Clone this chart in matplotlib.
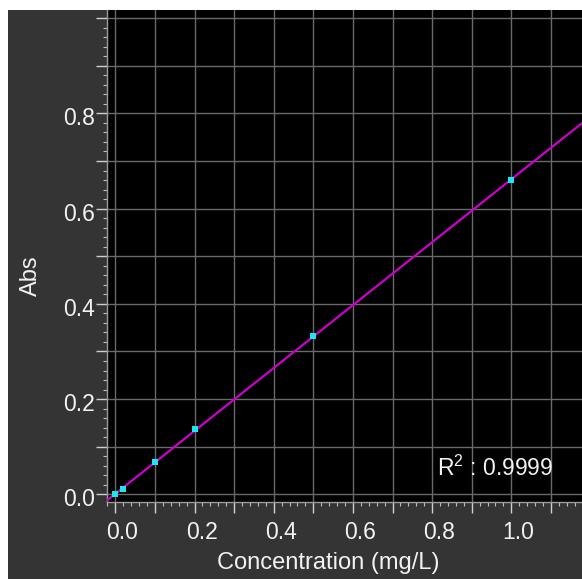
import numpy as np
import matplotlib
matplotlib.use("Agg")
import matplotlib.pyplot as plt
from matplotlib.patches import Rectangle
from matplotlib.ticker import MultipleLocator
import matplotlib.transforms as mtransforms

# ---- data ----
concentration = [0.0, 0.02, 0.1, 0.2, 0.5, 1.0]
absorbance = [0.0, 0.011, 0.068, 0.137, 0.333, 0.660]
x_major = [0.0, 0.1, 0.2, 0.3, 0.4, 0.5, 0.6, 0.7, 0.8, 0.9, 1.0, 1.1]
x_labels = ['0.0', '', '0.2', '', '0.4', '', '0.6', '', '0.8', '', '1.0', '']
y_major = [0.0, 0.1, 0.2, 0.3, 0.4, 0.5, 0.6, 0.7, 0.8, 0.9, 1.0]
y_labels = ['0.0', '', '0.2', '', '0.4', '', '0.6', '', '0.8', '', '']
r2_text = r'R$^{2}$ : 0.9999'
x_title = 'Concentration (mg/L)'
y_title = 'Abs'

plt.rcParams['font.family'] = ['Liberation Sans', 'DejaVu Sans']
plt.rcParams['mathtext.fontset'] = 'custom'
plt.rcParams['mathtext.rm'] = 'Liberation Sans'
plt.rcParams['mathtext.it'] = 'Liberation Sans'
plt.rcParams['mathtext.default'] = 'regular'

W, H = 582, 579
fig = plt.figure(figsize=(W / 100, H / 100), dpi=100)
fig.patch.set_facecolor('white')
fig.patches.append(Rectangle((8 / W, 0), 1 - 8 / W, 1 - 10 / H,
                             transform=fig.transFigure, facecolor='#343434',
                             edgecolor='none', zorder=-10))

ax = fig.add_axes([107 / W, (H - 502) / H, (W - 107) / W, (502 - 10) / H])
ax.set_facecolor('black')
ax.set_xlim(-0.021, 1.1785)
ax.set_ylim(-0.016, 1.017)

# grid
ax.set_xticks(x_major, x_labels)
ax.set_yticks(y_major, y_labels)
ax.xaxis.set_minor_locator(MultipleLocator(0.02))
ax.yaxis.set_minor_locator(MultipleLocator(0.02))
ax.grid(True, which='major', color='#6a6a6a', linewidth=1.0)
ax.set_axisbelow(True)

# fit line
slope, intercept = np.polyfit(concentration, absorbance, 1)
xs = np.array(ax.get_xlim())
ax.plot(xs, slope * xs + intercept, color='#cc00cc', linewidth=1.6, zorder=3)
ax.plot(concentration, absorbance, linestyle='none', marker='s',
        markersize=4.2, color='#1ee6f0', markeredgewidth=0, zorder=4)

for s in ['top', 'right']:
    ax.spines[s].set_visible(False)
for s in ['left', 'bottom']:
    ax.spines[s].set_color('#9a9a9a')
    ax.spines[s].set_linewidth(1.0)

ax.tick_params(which='major', direction='out', length=8, width=1.0,
               color='#cfcfcf', labelcolor='#f2f2f2', labelsize=16.5)
ax.tick_params(axis='y', which='major', pad=1)
ax.tick_params(axis='x', which='major', pad=6)
ax.tick_params(which='minor', direction='out', length=3, width=0.8,
               color='#bdbdbd')

# shift tick labels to match reference placement
dx = mtransforms.ScaledTranslation(7 / 100, 0, fig.dpi_scale_trans)
for lab in ax.get_xticklabels():
    lab.set_transform(lab.get_transform() + dx)
dy = mtransforms.ScaledTranslation(0, -3 / 100, fig.dpi_scale_trans)
for lab in ax.get_yticklabels():
    lab.set_transform(lab.get_transform() + dy)

ax.set_xlabel(x_title, color='#f2f2f2', fontsize=17)
ax.xaxis.set_label_coords(0.465, -0.102)
ax.set_ylabel(y_title, color='#f2f2f2', fontsize=17)
ax.yaxis.set_label_coords(-0.137, 0.461)

ax.text(0.813, 0.055, r2_text, color='#f2f2f2', fontsize=16.5,
        ha='left', va='center', zorder=5)

fig.savefig('out.png', dpi=100, facecolor=fig.get_facecolor())
